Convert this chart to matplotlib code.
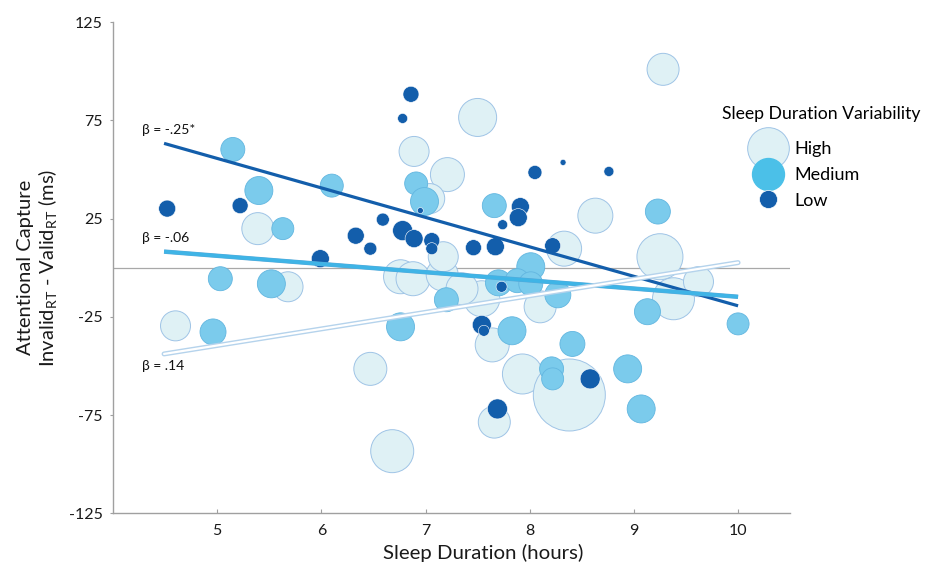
import numpy as np
import matplotlib.pyplot as plt
from matplotlib.lines import Line2D
import matplotlib.patheffects as pe

plt.rcParams['font.family'] = ['Lato', 'DejaVu Sans']
plt.rcParams['mathtext.fontset'] = 'custom'
plt.rcParams['mathtext.rm'] = 'Lato'

# sleep duration (hours), attentional capture (ms), bubble radius (px) per variability group
high_x = [6.89, 7.21, 5.39, 7.04, 9.28, 7.50, 8.63, 8.33, 9.25, 4.60, 5.68, 6.76, 6.88,
          7.16, 7.17, 6.47, 6.68, 7.54, 8.10, 7.64, 7.93, 8.38, 7.66, 9.38, 9.62, 7.35]
high_y = [59.2, 47.4, 19.9, 35.2, 101.0, 76.5, 26.5, 9.7, 5.6, -29.6, -9.7, -4.6, -5.6,
          -3.6, 5.6, -51.5, -93.4, -15.8, -19.9, -39.3, -54.1, -64.8, -78.6, -15.8, -7.1, -10.7]
high_r = [15, 17, 16, 15, 16, 19, 17.5, 17.5, 23, 15, 15, 17, 17,
          16, 15, 16.5, 21.5, 18, 16, 17, 20, 36, 16, 21, 15, 16]

med_x = [5.15, 5.40, 5.63, 6.10, 6.91, 6.99, 7.66, 9.23, 8.01, 5.03, 5.52, 4.96, 6.76,
         7.20, 7.70, 7.88, 8.01, 8.27, 7.83, 8.41, 8.21, 8.22, 8.94, 9.13, 9.07, 10.0]
med_y = [60.2, 39.3, 19.9, 41.8, 42.9, 33.7, 31.6, 28.6, 0.5, -5.6, -8.2, -32.7, -30.1,
         -16.3, -7.7, -6.6, -8.2, -13.8, -32.1, -38.8, -51.5, -56.6, -51.5, -22.4, -71.9, -28.6]
med_r = [12, 14, 11, 11.5, 11.5, 14, 12, 12.5, 14, 12, 14, 13, 14,
         12, 13, 12, 12, 13, 14, 12.5, 12, 11, 14, 13, 14, 11]

low_x = [4.52, 5.22, 6.86, 6.78, 6.59, 6.33, 6.47, 5.99, 6.78, 6.89, 7.06, 7.06, 6.95, 7.46,
         7.67, 7.91, 7.89, 7.74, 8.05, 8.32, 8.76, 8.22, 7.54, 7.56, 7.73, 7.69, 8.58]
low_y = [30.1, 31.6, 88.3, 76.0, 24.5, 16.3, 9.7, 4.6, 18.9, 14.8, 13.8, 9.7, 29.1, 10.2,
         10.7, 31.1, 25.5, 21.9, 48.5, 53.6, 49.0, 11.2, -29.1, -32.1, -9.7, -71.9, -56.6]
low_r = [8.5, 8, 8, 5, 6.5, 8.5, 6.5, 9, 10, 9, 8, 6, 3, 8,
         9, 9, 9, 5, 7, 3, 5, 8, 9.5, 5.5, 5.5, 10, 10]

# regression lines: x range and fitted endpoints
fit_x = [4.49, 10.0]
low_fit = [63.3, -19.4]
med_fit = [8.2, -14.8]
high_fit = [-43.9, 2.6]
betas = ['β = -.25*', 'β = -.06', 'β = .14']

c_high, c_high_edge = '#dff1f5', '#9fc4e6'
c_med, c_med_edge = '#7bcbec', '#62b6e0'
c_low = '#135eab'


def rad2s(r):
    return (np.array(r) * 2 * 0.72) ** 2


fig = plt.figure(figsize=(9.34, 5.69), dpi=100)
ax = fig.add_axes([0.121, 0.098, 0.725, 0.863])

ax.axhline(0, color='#a8a8a8', lw=0.9, zorder=1)

ax.scatter(high_x, high_y, s=rad2s(high_r), c=c_high, edgecolors=c_high_edge, linewidths=0.7, zorder=2)
ax.scatter(med_x, med_y, s=rad2s(med_r), c=c_med, edgecolors=c_med_edge, linewidths=0.6, zorder=3)
ax.scatter(low_x, low_y, s=rad2s(low_r), c=c_low, edgecolors='white', linewidths=0.4, zorder=4)

ax.plot(fit_x, low_fit, color=c_low, lw=2.3, solid_capstyle='butt', zorder=5)
ax.plot(fit_x, med_fit, color='#3fb4e6', lw=2.6, solid_capstyle='butt', zorder=5,
        path_effects=[pe.Stroke(linewidth=3.2, foreground='#5aa9d8'), pe.Normal()])
ax.plot(fit_x, high_fit, color='white', lw=1.6, solid_capstyle='round', zorder=5,
        path_effects=[pe.Stroke(linewidth=3.6, foreground='#b5d3ec'), pe.Normal()])

for yv, lab in zip([low_fit[0], med_fit[0], high_fit[0]], betas):
    off = 7 if lab != betas[2] else -6
    ax.text(4.28, yv + off, lab, fontsize=10, color='#111111', ha='left', va='center', zorder=6)

ax.set_xlim(4.0, 10.5)
ax.set_ylim(-125, 125)
ax.set_xticks([5, 6, 7, 8, 9, 10])
ax.set_yticks([-125, -75, -25, 25, 75, 125])
ax.set_yticklabels(['-125', '-75', '-25', '25', '75', '125'])

for s in ['top', 'right']:
    ax.spines[s].set_visible(False)
for s in ['left', 'bottom']:
    ax.spines[s].set_color('#a0a0a0')
    ax.spines[s].set_linewidth(1.0)
ax.tick_params(axis='x', direction='in', length=3, color='#a0a0a0', labelsize=11.5,
               labelcolor='#1a1a1a', pad=8)
ax.tick_params(axis='y', direction='out', length=2.5, color='#a0a0a0', labelsize=11.5,
               labelcolor='#1a1a1a', pad=5)

ax.set_xlabel('Sleep Duration (hours)', fontsize=14.7, color='#1a1a1a')
ax.xaxis.set_label_coords(0.547, -0.062)
ax.set_ylabel('Attentional Capture\nInvalid$_{\\mathregular{RT}}$ - Valid$_{\\mathregular{RT}}$ (ms)',
              fontsize=14.5, color='#1a1a1a', labelpad=6, linespacing=1.15)

handles = [
    Line2D([], [], ls='none', marker='o', markersize=30, markerfacecolor=c_high,
           markeredgecolor=c_high_edge, markeredgewidth=0.7),
    Line2D([], [], ls='none', marker='o', markersize=23, markerfacecolor='#4bc0e8',
           markeredgecolor='#4bc0e8'),
    Line2D([], [], ls='none', marker='o', markersize=13, markerfacecolor=c_low,
           markeredgecolor='white', markeredgewidth=0.5),
]
leg = ax.legend(handles, ['High', 'Medium', 'Low'], title='Sleep Duration Variability',
                loc='upper left', bbox_to_anchor=(0.900, 0.829), frameon=False, fontsize=13,
                title_fontsize=12.7, labelspacing=0.55, handlelength=5.1, handletextpad=-1.1,
                borderaxespad=0, borderpad=0)
leg._legend_box.align = 'left'
leg._legend_box.sep = 13.5

fig.savefig('out.png', dpi=100)
